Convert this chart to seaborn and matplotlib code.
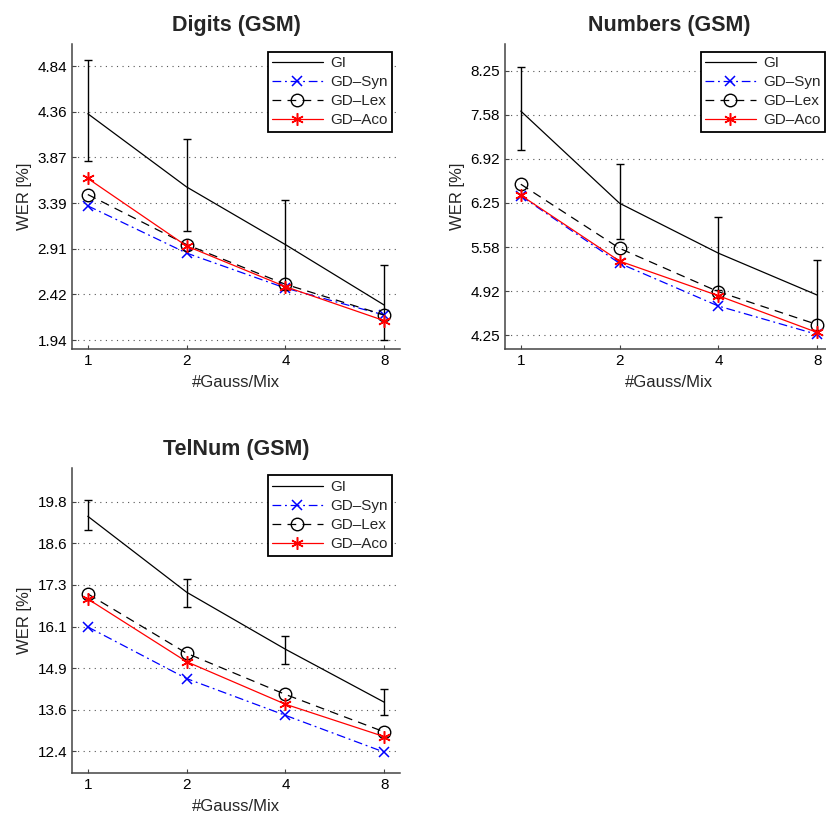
import numpy as np
import pandas as pd
import matplotlib
matplotlib.use("Agg")
import matplotlib.pyplot as plt
import seaborn as sns

GAUSS = [1, 2, 4, 8]
GAUSS_LABELS = ["1", "2", "4", "8"]
SERIES = ["GI", "GD–Syn", "GD–Lex", "GD–Aco"]

# Digits (GSM)
DIGITS_GI = [4.335, 3.56, 2.95, 2.31]
DIGITS_SYN = [3.36, 2.86, 2.49, 2.205]
DIGITS_LEX = [3.48, 2.95, 2.53, 2.205]
DIGITS_ACO = [3.65, 2.935, 2.505, 2.145]
DIGITS_GI_LO = [3.835, 3.097, 2.48, 1.94]
DIGITS_GI_HI = [4.90, 4.064, 3.42, 2.734]
DIGITS_YTICKS = ["1.94", "2.42", "2.91", "3.39", "3.87", "4.36", "4.84"]

# Numbers (GSM)
NUMBERS_GI = [7.64, 6.245, 5.49, 4.856]
NUMBERS_SYN = [6.356, 5.336, 4.69, 4.26]
NUMBERS_LEX = [6.533, 5.563, 4.907, 4.41]
NUMBERS_ACO = [6.366, 5.37, 4.846, 4.29]
NUMBERS_GI_LO = [7.05, 5.70, 4.94, 4.33]
NUMBERS_GI_HI = [8.30, 6.836, 6.04, 5.386]
NUMBERS_YTICKS = ["4.25", "4.92", "5.58", "6.25", "6.92", "7.58", "8.25"]

# TelNum (GSM)
TELNUM_GI = [19.37, 17.12, 15.43, 13.86]
TELNUM_SYN = [16.09, 14.56, 13.47, 12.38]
TELNUM_LEX = [17.07, 15.31, 14.09, 12.98]
TELNUM_ACO = [16.92, 15.06, 13.80, 12.84]
TELNUM_GI_LO = [18.96, 16.69, 15.00, 13.48]
TELNUM_GI_HI = [19.85, 17.52, 15.82, 14.24]
TELNUM_YTICKS = ["12.4", "13.6", "14.9", "16.1", "17.3", "18.6", "19.8"]

PANELS = [
    dict(title="Digits (GSM)", gi=DIGITS_GI, syn=DIGITS_SYN, lex=DIGITS_LEX, aco=DIGITS_ACO,
         lo=DIGITS_GI_LO, hi=DIGITS_GI_HI, yticks=DIGITS_YTICKS, ylim=(1.845, 5.073),
         rect=[72 / 826, 1 - 349 / 816, 328 / 826, 305 / 816]),
    dict(title="Numbers (GSM)", gi=NUMBERS_GI, syn=NUMBERS_SYN, lex=NUMBERS_LEX, aco=NUMBERS_ACO,
         lo=NUMBERS_GI_LO, hi=NUMBERS_GI_HI, yticks=NUMBERS_YTICKS, ylim=(4.04, 8.655),
         rect=[505 / 826, 1 - 349 / 816, 328 / 826, 305 / 816]),
    dict(title="TelNum (GSM)", gi=TELNUM_GI, syn=TELNUM_SYN, lex=TELNUM_LEX, aco=TELNUM_ACO,
         lo=TELNUM_GI_LO, hi=TELNUM_GI_HI, yticks=TELNUM_YTICKS, ylim=(11.77, 20.81),
         rect=[72 / 826, 1 - 772.7 / 816, 328 / 826, 305 / 816]),
]

sns.set_style("ticks")
plt.rcParams["font.family"] = ["Liberation Sans", "DejaVu Sans"]

fig = plt.figure(figsize=(8.26, 8.16), dpi=100)

for p in PANELS:
    ax = fig.add_axes(p["rect"])

    # error bars on the gender independent baseline
    gi = np.array(p["gi"])
    yerr = [gi - np.array(p["lo"]), np.array(p["hi"]) - gi]
    ax.errorbar(GAUSS, gi, yerr=yerr, fmt="none", ecolor="black", elinewidth=1.0,
                capsize=3, capthick=1.0, zorder=2)

    sns.lineplot(x=GAUSS, y=p["gi"], ax=ax, color="black", lw=0.9, label=SERIES[0], zorder=3)
    sns.lineplot(x=GAUSS, y=p["syn"], ax=ax, color="blue", lw=0.9, label=SERIES[1],
                 linestyle=(0, (7, 3, 1.5, 3)), marker="x", markersize=7,
                 markeredgewidth=1.1, markeredgecolor="blue", zorder=3)
    sns.lineplot(x=GAUSS, y=p["lex"], ax=ax, color="black", lw=0.9, label=SERIES[2],
                 linestyle=(0, (7, 5)), marker="o", markersize=9, markerfacecolor="none",
                 markeredgecolor="black", markeredgewidth=1.0, zorder=3)
    sns.lineplot(x=GAUSS, y=p["aco"], ax=ax, color="red", lw=0.9, label=SERIES[3],
                 marker=(6, 2, 0), markersize=9, markeredgewidth=1.1,
                 markeredgecolor="red", zorder=4)

    ax.set_xscale("log", base=2)
    ax.set_xlim(2 ** -0.16, 2 ** 3.16)
    ax.set_xticks(GAUSS)
    ax.set_xticklabels(GAUSS_LABELS)
    ax.xaxis.set_minor_locator(matplotlib.ticker.NullLocator())

    lo, hi = float(p["yticks"][0]), float(p["yticks"][-1])
    ax.set_yticks(np.linspace(lo, hi, len(p["yticks"])))
    ax.set_yticklabels(p["yticks"])
    ax.set_ylim(*p["ylim"])

    ax.yaxis.grid(True, linestyle=(0, (1, 4)), color="#555555", lw=0.8)
    ax.set_axisbelow(True)
    sns.despine(ax=ax)
    for s in ["left", "bottom"]:
        ax.spines[s].set_color("#444444")
        ax.spines[s].set_linewidth(1.1)
    ax.tick_params(direction="in", length=3, width=0.8, colors="#444444",
                   labelcolor="black", labelsize=11)

    ax.set_xlabel("#Gauss/Mix", fontsize=12, labelpad=5)
    ax.set_ylabel("WER [%]", fontsize=12, labelpad=4)
    ax.set_title(p["title"], fontsize=15.5, fontweight="bold", pad=9)

    handles, labels = ax.get_legend_handles_labels()
    leg = ax.legend(handles, labels, loc="upper right", fontsize=11, fancybox=False,
                    framealpha=1, edgecolor="black", handlelength=3.3,
                    labelspacing=0.33, borderaxespad=0.5, handletextpad=0.5,
                    borderpad=0.3)
    leg.get_frame().set_linewidth(1.3)

fig.savefig("out.png", dpi=100)
